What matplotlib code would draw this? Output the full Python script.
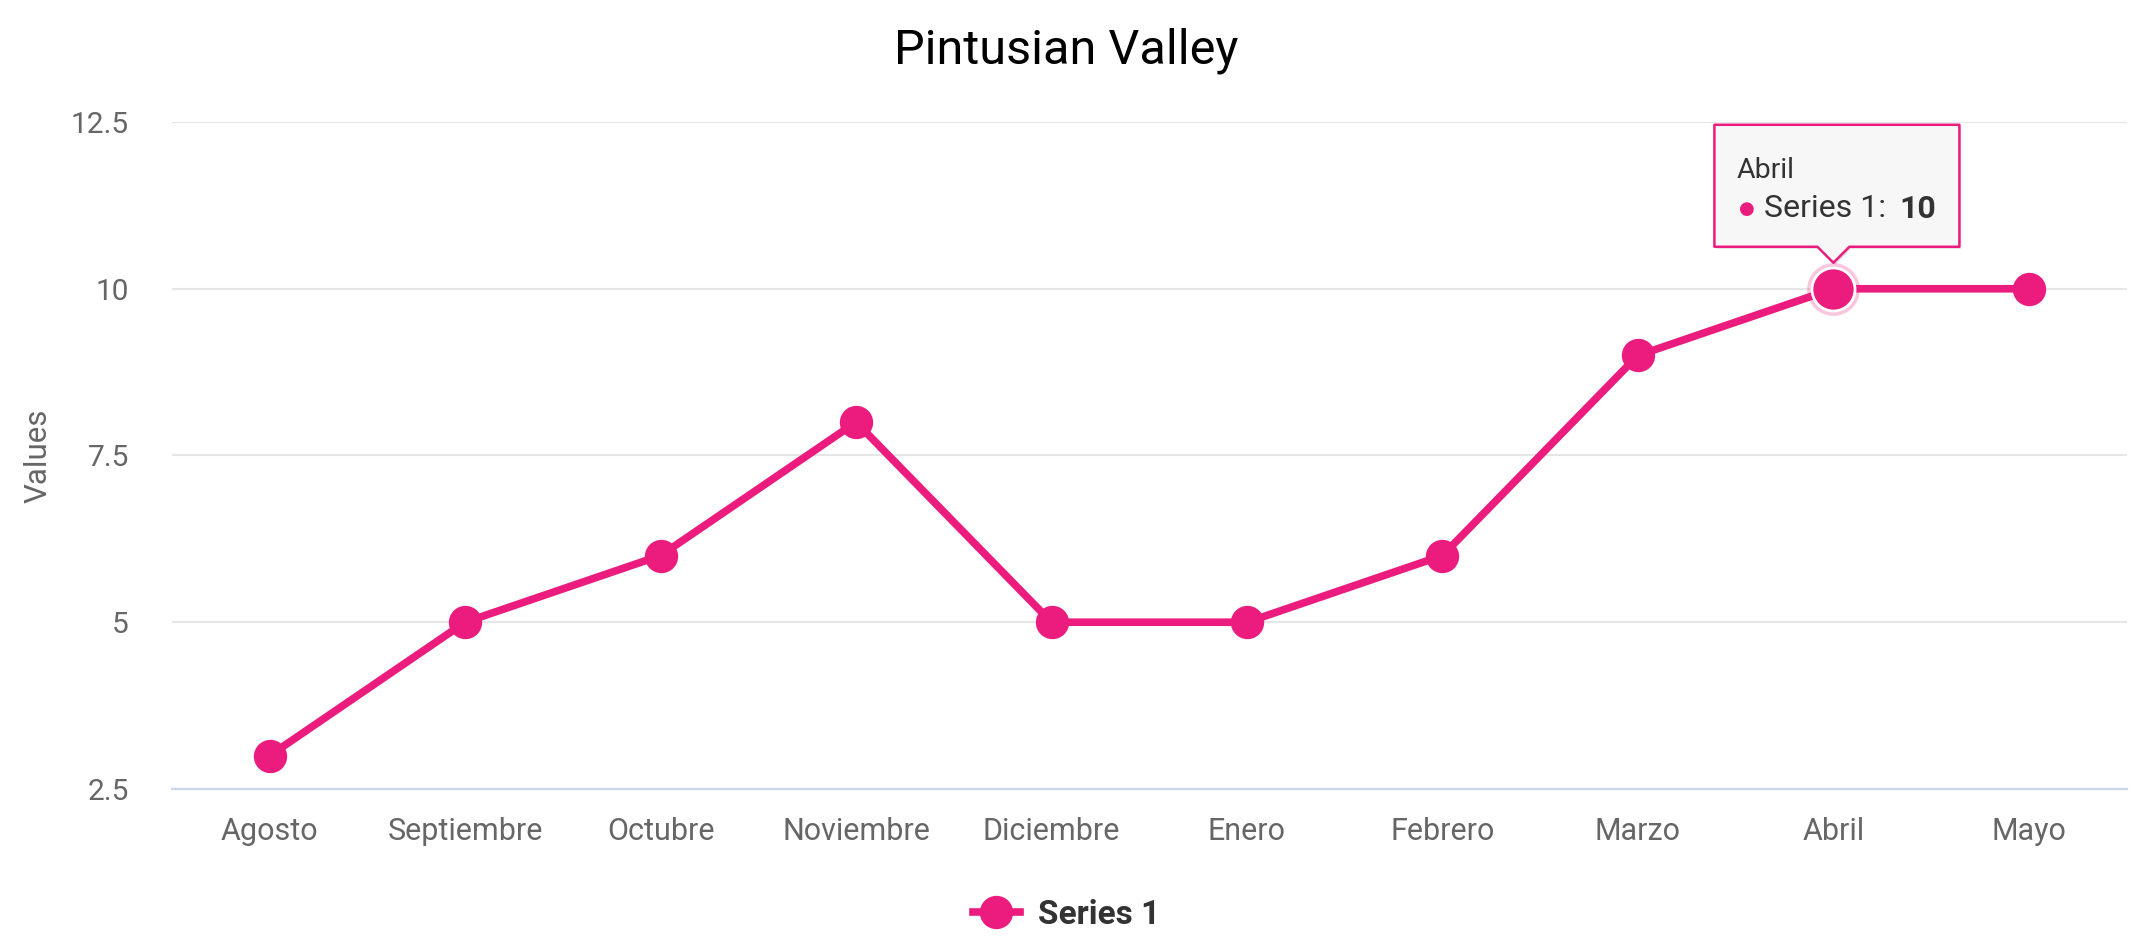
import matplotlib
matplotlib.use('Agg')
from matplotlib import pyplot as plt
from matplotlib.patches import Polygon
from matplotlib.lines import Line2D
import matplotlib.transforms as mtransforms

plt.rcParams['font.family'] = ['Roboto', 'DejaVu Sans']

months = ['Agosto', 'Septiembre', 'Octubre', 'Noviembre', 'Diciembre',
          'Enero', 'Febrero', 'Marzo', 'Abril', 'Mayo']
series1 = [3, 5, 6, 8, 5, 5, 6, 9, 10, 10]
y_ticks = [2.5, 5, 7.5, 10, 12.5]
y_tick_labels = ['2.5', '5', '7.5', '10', '12.5']
hover_idx = 8

pink = '#eb1c7d'
grid_col = '#e6e6e6'
axis_col = '#ccd6eb'
label_col = '#666666'
dark = '#333333'

fig = plt.figure(figsize=(21.33, 9.46), dpi=100)
ax = fig.add_axes([0.0806, 0.166, 0.9164, 0.705])

x = list(range(len(months)))
ax.plot(x, series1, color=pink, lw=5.5, marker='o', ms=24,
        markeredgewidth=0, clip_on=False, zorder=3, solid_joinstyle='round')

# hovered point
hx, hy = x[hover_idx], series1[hover_idx]
ax.plot([hx], [hy], 'o', ms=38, color=pink, alpha=0.25, markeredgewidth=0,
        zorder=4, clip_on=False)
ax.plot([hx], [hy], 'o', ms=31, color=pink, markeredgecolor='white',
        markeredgewidth=2, zorder=5, clip_on=False)

ax.set_xlim(-0.5, len(months) - 0.5)
ax.set_ylim(2.5, 12.5)
ax.set_xticks(x)
ax.set_xticklabels(months)
ax.set_yticks(y_ticks)
ax.set_yticklabels(y_tick_labels)
ax.tick_params(axis='x', length=0, pad=20, labelsize=22, labelcolor=label_col)
ax.tick_params(axis='y', length=0, pad=31, labelsize=21.5, labelcolor=label_col)

ax.grid(axis='y', color=grid_col, lw=1.5)
ax.set_axisbelow(True)
for s in ['top', 'right', 'left']:
    ax.spines[s].set_visible(False)
ax.spines['bottom'].set_color(axis_col)
ax.spines['bottom'].set_linewidth(1.6)
ax.spines['bottom'].set_zorder(2)

ax.set_ylabel('Values', fontsize=22.5, color=label_col)
ax.yaxis.set_label_coords(-0.0612, 0.5)

fig.text(0.5, 0.946, 'Pintusian Valley', ha='center', va='center',
         fontsize=35, color='#000000')

# tooltip, built in pixel offsets from the hovered point
trans = mtransforms.Affine2D() + mtransforms.ScaledTranslation(hx, hy, ax.transData)
verts = [(-119, 42), (-16, 42), (0, 26), (16, 42), (126, 42),
         (126, 164), (-119, 164)]
shadow = Polygon([(vx + 2, vy - 2) for vx, vy in verts], closed=True,
                 transform=trans, facecolor='#000000', alpha=0.12,
                 edgecolor='none', zorder=6, clip_on=False)
ax.add_patch(shadow)
tip = Polygon(verts, closed=True, transform=trans, facecolor='#f7f7f7',
              edgecolor=pink, lw=1.8, zorder=7, clip_on=False,
              joinstyle='round')
ax.add_patch(tip)

ax.annotate('Abril', xy=(hx, hy), xytext=(-97, 118), textcoords='offset pixels',
            fontsize=20.5, color=dark, va='center', ha='left', zorder=8)
ax.annotate('\u25cf', xy=(hx, hy), xytext=(-87, 80), textcoords='offset pixels',
            fontsize=13, color=pink, va='center', ha='center', zorder=8)
ax.annotate('Series 1: ', xy=(hx, hy), xytext=(-69, 80), textcoords='offset pixels',
            fontsize=23, color=dark, va='center', ha='left', zorder=8)
ax.annotate(str(series1[hover_idx]), xy=(hx, hy), xytext=(66, 80),
            textcoords='offset pixels', fontsize=23, color=dark,
            fontweight='bold', va='center', ha='left', zorder=8)

handle = Line2D([], [], color=pink, lw=5.5, marker='o', ms=24,
                markeredgewidth=0)
leg = fig.legend([handle], ['Series 1'], loc='center',
                 bbox_to_anchor=(0.5, 0.033), frameon=False,
                 handlelength=1.4, handletextpad=0.55,
                 prop={'size': 24, 'weight': 'bold'})
for t in leg.get_texts():
    t.set_color(dark)

fig.savefig('out.png', dpi=100)
